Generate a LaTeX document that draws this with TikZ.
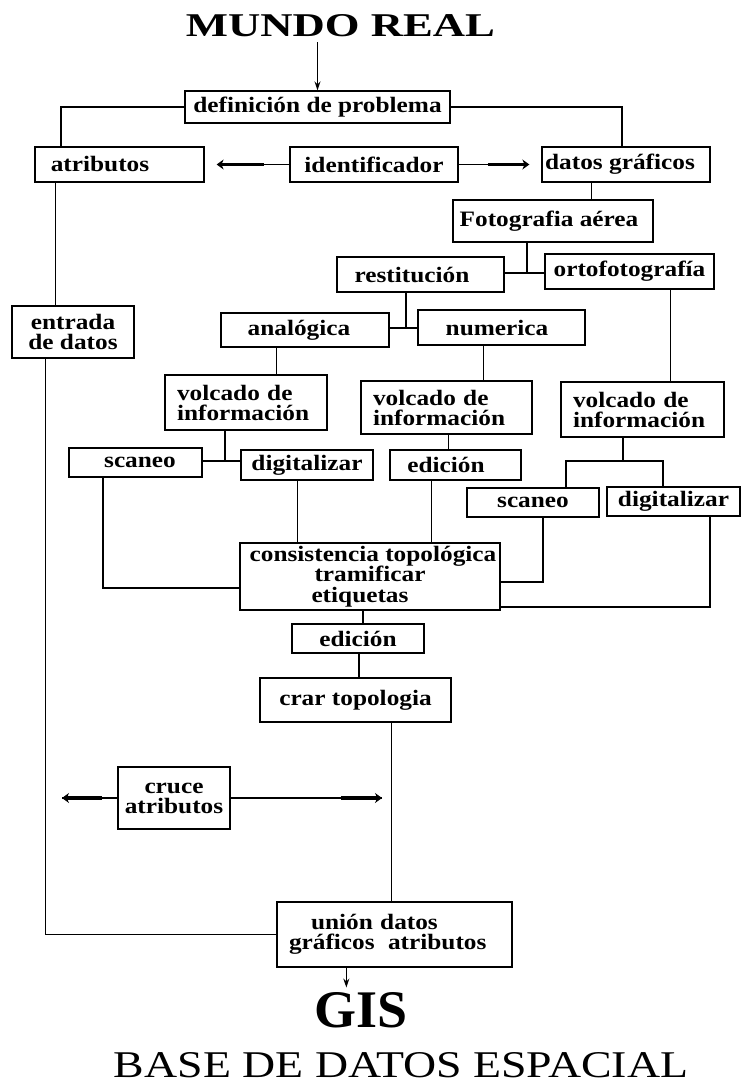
\documentclass[tikz,border=0pt]{standalone}
\usepackage{fontspec}
\usepackage{graphicx}
\usetikzlibrary{arrows.meta,calc}
\newfontfamily\bxfont{Liberation Serif}[FakeStretch=1.15]
\newfontfamily\ttlfont{Liberation Serif}
\tikzset{
  box/.style={draw, line width=1.3pt, inner sep=0pt, align=center,
    font=\bxfont\bfseries\fontsize{22}{20}\selectfont},
  lbox/.style={box, align=left, inner xsep=12pt},
  conn/.style={line width=1.1pt},
  thinconn/.style={line width=0.8pt},
  arr/.style={line width=1.4pt, -{Stealth[length=9pt 0, width=6pt 0]}},
  fatarr/.style={line width=3.8pt, -{Stealth[length=7pt 0, width=10pt 0]}},
  ttl/.style={inner sep=0pt}
}
\begin{document}
\begin{tikzpicture}[x=1pt,y=-1pt]
\useasboundingbox (0,0) rectangle (744,1086);
\fill[white] (0,0) rectangle (744,1086);

% titles
\node[ttl] (mundo) at (340.5,26) {\resizebox{309pt}{22pt}{\ttlfont\bfseries MUNDO REAL}};
\node[ttl] (gis) at (361.5,1010.5) {\resizebox{93pt}{35pt}{\ttlfont\bfseries GIS}};
\node[ttl] (base) at (401,1065.5) {\resizebox{574pt}{25pt}{\ttlfont BASE DE DATOS ESPACIAL}};

% boxes
\node[box, minimum width=265pt, minimum height=32pt] (def) at (317.5,107) {definición de problema};
\node[box, minimum width=169pt, minimum height=35pt] (atr) at (119.5,164.5) {atributos\hspace*{39pt}};
\node[box, minimum width=168pt, minimum height=35pt] (ident) at (374,164.5) {identificador};
\node[box, minimum width=168pt, minimum height=35pt] (datos) at (626,164.5) {datos gráficos\hspace*{12pt}};
\node[box, minimum width=200pt, minimum height=42pt] (foto) at (553,221) {Fotografia aérea\hspace*{8pt}};
\node[box, minimum width=167pt, minimum height=35pt] (rest) at (420.5,274.5) {restitución\hspace*{17pt}};
\node[box, minimum width=169pt, minimum height=35pt] (orto) at (629.5,271.5) {ortofotografía};
\node[box, minimum width=168pt, minimum height=34pt] (anal) at (305,330) {analógica\hspace*{12pt}};
\node[box, minimum width=167pt, minimum height=35pt] (num) at (501.5,327.5) {numerica\hspace*{9pt}};
\node[box, minimum width=122pt, minimum height=52pt] (entrada) at (73,332) {entrada\\de datos};
\node[lbox, text width=138pt, minimum height=55pt] (volc1) at (246,402.5) {volcado de\\información};
\node[lbox, text width=147pt, minimum height=53pt] (volc2) at (446.5,407.5) {volcado de\\información};
\node[lbox, text width=139pt, minimum height=55pt] (volc3) at (642.5,409.5) {volcado de\\información};
\node[box, minimum width=133pt, minimum height=29pt] (scan1) at (135.5,462.5) {\hspace*{9pt}scaneo};
\node[box, minimum width=132pt, minimum height=30pt] (dig1) at (307,465) {digitalizar};
\node[box, minimum width=131pt, minimum height=30pt] (ed1) at (455.5,465) {edición\hspace*{19pt}};
\node[box, minimum width=132pt, minimum height=29pt] (scan2) at (533,502.5) {scaneo};
\node[box, minimum width=133pt, minimum height=29pt] (dig2) at (673.5,501.5) {digitalizar};
\node[box, minimum width=260pt, minimum height=67pt, font=\bxfont\bfseries\fontsize{22}{20.5}\selectfont] (cons) at (370,576.5) {\hspace*{6pt}consistencia topológica\\tramificar\\etiquetas\hspace*{20pt}};
\node[box, minimum width=132pt, minimum height=29pt] (ed2) at (358,638.5) {edición};
\node[box, minimum width=191pt, minimum height=44pt] (crar) at (355.5,700) {crar topologia};
\node[box, minimum width=112pt, minimum height=62pt] (cruce) at (174,798) {cruce\\atributos};
\node[lbox, text width=211pt, minimum height=65pt] (union) at (394.5,934.5) {\hspace*{22pt}unión datos\\gráficos\hspace*{6pt} atributos};

% connectors
\draw[arr, shorten <=5pt] (def.north |- mundo.south) -- (def.north);
\coordinate (c1) at (61,107);
\draw[conn] (def.west) -- (c1) -- (c1 |- atr.north);
\coordinate (c2) at (622,107);
\draw[conn] (def.east) -- (c2) -- (c2 |- datos.north);

% fat arrows identificador
\coordinate (tipL) at ($(atr.east)+(12,0)$);
\coordinate (tipR) at ($(datos.west)+(-12,0)$);
\draw[conn] (ident.west) -- (tipL);
\draw[fatarr] ($(tipL)+(47,0)$) -- (tipL);
\draw[conn] (ident.east) -- (tipR);
\draw[fatarr] ($(tipR)+(-41,0)$) -- (tipR);

\draw[thinconn] ([xshift=21pt]atr.south west) -- ([xshift=21pt]atr.south west |- entrada.north);
\draw[thinconn] ([xshift=34pt]entrada.south west) |- (union.west);

\draw[conn] ([xshift=50pt]datos.south west) -- ([xshift=50pt]datos.south west |- foto.north);
\coordinate (j1) at (527,273);
\draw[conn] (foto.south -| j1) -- (j1);
\draw[conn] (j1 -| rest.east) -- (j1 -| orto.west);
\coordinate (j2) at (406,328);
\draw[conn] (rest.south -| j2) -- (j2);
\draw[conn] (j2 -| anal.east) -- (j2 -| num.west);

\draw[conn] ([xshift=56pt]anal.south west) -- ([xshift=56pt]anal.south west |- volc1.north);
\draw[conn] ([xshift=66pt]num.south west) -- ([xshift=66pt]num.south west |- volc2.north);
\draw[conn] ([xshift=126pt]orto.south west) -- ([xshift=126pt]orto.south west |- volc3.north);

\coordinate (j3) at (225,461);
\draw[conn] (volc1.south -| j3) -- (j3);
\draw[conn] (j3 -| scan1.east) -- (j3 -| dig1.west);
\draw[conn] ([xshift=88pt]volc2.south west) -- ([xshift=88pt]volc2.south west |- ed1.north);

\coordinate (j4) at (623,461);
\coordinate (j4a) at (566,461);
\coordinate (j4b) at (663,461);
\draw[conn] (volc3.south -| j4) -- (j4);
\draw[conn] (j4a |- scan2.north) -- (j4a) -- (j4b) -- (j4b |- dig2.north);

\coordinate (k1) at (103,588);
\draw[conn] (scan1.south -| k1) -- (k1) -- (k1 -| cons.west);
\draw[conn] ([xshift=58pt]cons.north west |- dig1.south) -- ([xshift=58pt]cons.north west);
\draw[conn] ([xshift=192pt]cons.north west |- ed1.south) -- ([xshift=192pt]cons.north west);
\coordinate (k2) at (543,582);
\draw[conn] (scan2.south -| k2) -- (k2) -- (k2 -| cons.east);
\coordinate (k3) at (710,607);
\draw[conn] (dig2.south -| k3) -- (k3) -- (k3 -| cons.east);

\draw[conn] ([xshift=5pt]ed2.north) -- ([xshift=5pt]ed2.north |- cons.south);
\draw[conn] ([xshift=1pt]ed2.south) -- ([xshift=1pt]ed2.south |- crar.north);
\draw[thinconn] ([xshift=132pt]crar.south west) -- ([xshift=132pt]crar.south west |- union.north);

% cruce arrows
\coordinate (lt) at (62,798);
\coordinate (rt) at (382,798);
\draw[conn] (cruce.west) -- (lt);
\draw[fatarr] ($(lt)+(40,0)$) -- (lt);
\draw[conn] (cruce.east) -- (rt);
\draw[fatarr] ($(rt)+(-41,0)$) -- (rt);

% to GIS
\draw[arr, shorten >=5pt] ([xshift=70pt]union.south west) -- ([xshift=70pt]union.south west |- gis.north);
\end{tikzpicture}
\end{document}
